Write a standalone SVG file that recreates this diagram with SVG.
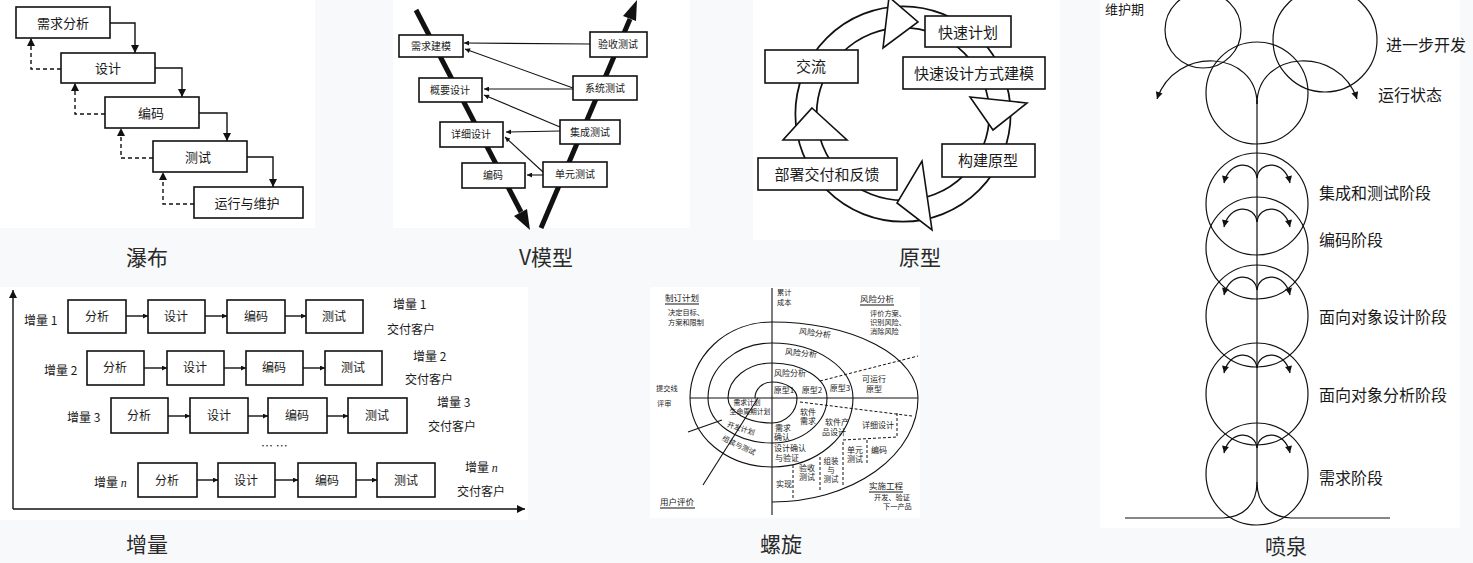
<svg xmlns="http://www.w3.org/2000/svg" width="1473" height="563" viewBox="0 0 1473 563">
<style>
text{font-family:"Noto Sans CJK SC","Noto Sans",sans-serif;fill:#1a1a1a}
.t{font-size:21px;text-anchor:middle;fill:#2a2a2a}
.b{fill:#fff;stroke:#111;stroke-width:1.6}
.l{fill:none;stroke:#111;stroke-width:1.4}
.d{fill:none;stroke:#111;stroke-width:1.4;stroke-dasharray:4,3}
.w13{font-size:13px;text-anchor:middle}
.v{font-size:10px;text-anchor:middle}
.p{font-size:15px;text-anchor:middle}
.f{font-size:16px}
.i{font-size:12px;text-anchor:middle}
.il{font-size:12px}
.s{font-size:8px;text-anchor:middle}
.ss{font-size:7.2px}
.sl{fill:none;stroke:#111;stroke-width:1.1}
.sd{fill:none;stroke:#111;stroke-width:1;stroke-dasharray:3,2}
.c{fill:none;stroke:#111;stroke-width:1.2}
</style>
<defs>
<marker id="ah" viewBox="0 0 10 10" refX="10" refY="5" markerWidth="9" markerHeight="8" markerUnits="userSpaceOnUse" orient="auto"><path d="M0,0 L10,5 L0,10 z" fill="#111"/></marker>
<marker id="ahs" viewBox="0 0 10 10" refX="10" refY="5" markerWidth="7" markerHeight="5" markerUnits="userSpaceOnUse" orient="auto"><path d="M0,0 L10,5 L0,10 z" fill="#111"/></marker>
<marker id="ahf" viewBox="0 0 10 10" refX="10" refY="5" markerWidth="9" markerHeight="7" markerUnits="userSpaceOnUse" orient="auto"><path d="M0,0 L10,5 L0,10 z" fill="#111"/></marker>
</defs>
<rect width="1473" height="563" fill="#f7f9fb"/>
<g id="panels" fill="#fff">
<rect x="0" y="0" width="315" height="228"/>
<rect x="393" y="0" width="297" height="228"/>
<rect x="753" y="0" width="307" height="240"/>
<rect x="1100" y="0" width="360" height="528"/>
<rect x="0" y="287" width="528" height="233"/>
<rect x="650" y="287" width="270" height="231"/>
</g>

<!-- ========== Waterfall ========== -->
<g id="waterfall-connectors">
<path class="l" d="M110,23 H135 V53" marker-end="url(#ah)"/>
<path class="l" d="M155,68 H182 V97" marker-end="url(#ah)"/>
<path class="l" d="M199,113 H227 V141" marker-end="url(#ah)"/>
<path class="l" d="M247,157 H273 V187" marker-end="url(#ah)"/>
<path class="d" d="M61,69 H31 V38" marker-end="url(#ah)"/>
<path class="d" d="M105,114 H75 V83" marker-end="url(#ah)"/>
<path class="d" d="M153,158 H121 V128" marker-end="url(#ah)"/>
<path class="d" d="M194,204 H163 V172" marker-end="url(#ah)"/>
</g>
<g id="wf-req"><rect class="b" x="16" y="7" width="94" height="31"/><text class="w13" x="63" y="28">需求分析</text></g>
<g id="wf-design"><rect class="b" x="61" y="53" width="94" height="30"/><text class="w13" x="108" y="73">设计</text></g>
<g id="wf-code"><rect class="b" x="105" y="97" width="94" height="31"/><text class="w13" x="151" y="118">编码</text></g>
<g id="wf-test"><rect class="b" x="153" y="141" width="94" height="31"/><text class="w13" x="198" y="162">测试</text></g>
<g id="wf-run"><rect class="b" x="194" y="187" width="109" height="31"/><text class="w13" x="247" y="208">运行与维护</text></g>
<text class="t" x="147" y="265">瀑布</text>

<!-- ========== V model ========== -->
<g id="v-thick">
<line x1="416" y1="10" x2="521" y2="212" stroke="#111" stroke-width="5"/>
<polygon points="530,230 527,209 514,216" fill="#111"/>
<line x1="541" y1="228" x2="630" y2="19" stroke="#111" stroke-width="5"/>
<polygon points="637,0 636,21 623,16" fill="#111"/>
</g>
<g id="v-connectors">
<line class="sl" x1="590" y1="44" x2="464" y2="43" marker-end="url(#ahs)"/>
<line class="sl" x1="573" y1="88" x2="465" y2="49" marker-end="url(#ahs)"/>
<line class="sl" x1="573" y1="89" x2="484" y2="89" marker-end="url(#ahs)"/>
<line class="sl" x1="560" y1="127" x2="484" y2="95" marker-end="url(#ahs)"/>
<line class="sl" x1="560" y1="131" x2="506" y2="132" marker-end="url(#ahs)"/>
<line class="sl" x1="543" y1="172" x2="505" y2="137" marker-end="url(#ahs)"/>
<line class="sl" x1="543" y1="175" x2="527" y2="175" marker-end="url(#ahs)"/>
</g>
<g id="v-req"><rect class="b" x="399" y="35" width="64" height="22"/><text class="v" x="431" y="50">需求建模</text></g>
<g id="v-acc"><rect class="b" x="590" y="32" width="57" height="25"/><text class="v" x="618" y="48">验收测试</text></g>
<g id="v-outline"><rect class="b" x="419" y="78" width="63" height="24"/><text class="v" x="450" y="94">概要设计</text></g>
<g id="v-sys"><rect class="b" x="573" y="76" width="64" height="24"/><text class="v" x="605" y="92">系统测试</text></g>
<g id="v-detail"><rect class="b" x="440" y="122" width="63" height="25"/><text class="v" x="471" y="138">详细设计</text></g>
<g id="v-int"><rect class="b" x="560" y="120" width="60" height="24"/><text class="v" x="590" y="136">集成测试</text></g>
<g id="v-code"><rect class="b" x="462" y="163" width="63" height="25"/><text class="v" x="493" y="179">编码</text></g>
<g id="v-unit"><rect class="b" x="543" y="162" width="64" height="25"/><text class="v" x="575" y="178">单元测试</text></g>
<text class="t" x="546" y="265">V模型</text>

<!-- ========== Prototype ========== -->
<g id="proto-ring">
<circle cx="903" cy="114" r="97" fill="none" stroke="#111" stroke-width="23"/>
<circle cx="903" cy="114" r="97" fill="none" stroke="#fff" stroke-width="19.5"/>
</g>
<g id="proto-arrows" fill="#fff" stroke="#111" stroke-width="1.6" stroke-linejoin="miter">
<polygon points="889,-3 918,22 883,48"/>
<polygon points="970,97 1027,103 993,130"/>
<polygon points="922,161 932,230 897,203"/>
<polygon points="812,108 847,140 783,140"/>
</g>
<g id="pr-plan"><rect class="b" x="925" y="16" width="86" height="31"/><text class="p" x="968" y="38">快速计划</text></g>
<g id="pr-design"><rect class="b" x="903" y="57" width="142" height="32"/><text class="p" x="974" y="79">快速设计方式建模</text></g>
<g id="pr-comm"><rect class="b" x="765" y="50" width="93" height="33"/><text class="p" x="811" y="72">交流</text></g>
<g id="pr-build"><rect class="b" x="942" y="144" width="93" height="33"/><text class="p" x="988" y="166">构建原型</text></g>
<g id="pr-deploy"><rect class="b" x="758" y="158" width="139" height="32"/><text class="p" x="827" y="180">部署交付和反馈</text></g>
<text class="t" x="920" y="265">原型</text>

<!-- ========== Fountain ========== -->
<g id="fountain-top">
<circle class="c" cx="1203" cy="30" r="38"/>
<circle class="c" cx="1325" cy="40" r="52"/>
<circle class="c" cx="1257" cy="93" r="51"/>
</g>
<g id="fountain-phases">
<circle class="c" cx="1257" cy="204" r="51"/>
<circle class="c" cx="1257" cy="248" r="51"/>
<circle class="c" cx="1257" cy="316" r="51"/>
<circle class="c" cx="1257" cy="394" r="51"/>
<circle class="c" cx="1257" cy="474" r="51"/>
</g>
<g id="fountain-connectors">
<line class="c" x1="1257" y1="100" x2="1257" y2="482"/>
<path class="c" d="M1257,104 C1257,50 1175,45 1157,99" marker-end="url(#ahf)"/>
<path class="c" d="M1257,104 C1257,50 1339,45 1357,99" marker-end="url(#ahf)"/>
<path class="c" d="M1257,482 C1257,505 1243,517 1223,518 L1125,518"/>
<path class="c" d="M1257,482 C1257,505 1271,517 1291,518 L1390,518"/>
<path class="c" d="M1257,178 C1255,160 1229,160 1224,183" marker-end="url(#ahf)"/>
<path class="c" d="M1257,178 C1259,160 1285,160 1290,183" marker-end="url(#ahf)"/>
<path class="c" d="M1257,222 C1255,204 1229,204 1224,227" marker-end="url(#ahf)"/>
<path class="c" d="M1257,222 C1259,204 1285,204 1290,227" marker-end="url(#ahf)"/>
<path class="c" d="M1257,290 C1255,272 1229,272 1224,295" marker-end="url(#ahf)"/>
<path class="c" d="M1257,290 C1259,272 1285,272 1290,295" marker-end="url(#ahf)"/>
<path class="c" d="M1257,368 C1255,350 1229,350 1224,373" marker-end="url(#ahf)"/>
<path class="c" d="M1257,368 C1259,350 1285,350 1290,373" marker-end="url(#ahf)"/>
<path class="c" d="M1257,448 C1255,430 1229,430 1224,453" marker-end="url(#ahf)"/>
<path class="c" d="M1257,448 C1259,430 1285,430 1290,453" marker-end="url(#ahf)"/>
</g>
<g id="fountain-labels">
<text class="f" x="1105" y="14" style="font-size:13px">维护期</text>
<text class="f" x="1386" y="51">进一步开发</text>
<text class="f" x="1378" y="101">运行状态</text>
<text class="f" x="1319" y="199">集成和测试阶段</text>
<text class="f" x="1319" y="246">编码阶段</text>
<text class="f" x="1319" y="323">面向对象设计阶段</text>
<text class="f" x="1319" y="401">面向对象分析阶段</text>
<text class="f" x="1319" y="484">需求阶段</text>
</g>
<text class="t" x="1286" y="554">喷泉</text>

<!-- ========== Incremental ========== -->
<g id="inc-connectors">
<line class="l" x1="13" y1="509" x2="13" y2="290" marker-end="url(#ah)"/>
<line class="l" x1="13" y1="509" x2="525" y2="509" marker-end="url(#ah)"/>
<line class="l" x1="126" y1="316" x2="148" y2="316" marker-end="url(#ahs)"/>
<line class="l" x1="205" y1="316" x2="227" y2="316" marker-end="url(#ahs)"/>
<line class="l" x1="285" y1="316" x2="306" y2="316" marker-end="url(#ahs)"/>
<line class="l" x1="144" y1="368" x2="167" y2="368" marker-end="url(#ahs)"/>
<line class="l" x1="224" y1="368" x2="246" y2="368" marker-end="url(#ahs)"/>
<line class="l" x1="303" y1="368" x2="325" y2="368" marker-end="url(#ahs)"/>
<line class="l" x1="168" y1="416" x2="190" y2="416" marker-end="url(#ahs)"/>
<line class="l" x1="248" y1="416" x2="268" y2="416" marker-end="url(#ahs)"/>
<line class="l" x1="327" y1="416" x2="348" y2="416" marker-end="url(#ahs)"/>
<line class="l" x1="197" y1="480" x2="218" y2="480" marker-end="url(#ahs)"/>
<line class="l" x1="275" y1="480" x2="298" y2="480" marker-end="url(#ahs)"/>
<line class="l" x1="356" y1="480" x2="377" y2="480" marker-end="url(#ahs)"/>
</g>
<g id="inc-row1">
<text class="il" x="24" y="325">增量 1</text>
<rect class="b" x="68" y="300" width="58" height="33"/><text class="i" x="97" y="321">分析</text>
<rect class="b" x="148" y="300" width="57" height="33"/><text class="i" x="176" y="321">设计</text>
<rect class="b" x="227" y="300" width="58" height="33"/><text class="i" x="256" y="321">编码</text>
<rect class="b" x="306" y="300" width="57" height="33"/><text class="i" x="334" y="321">测试</text>
<text class="il" x="393" y="309">增量 1</text><text class="il" x="387" y="334">交付客户</text>
</g>
<g id="inc-row2">
<text class="il" x="44" y="375">增量 2</text>
<rect class="b" x="87" y="351" width="57" height="34"/><text class="i" x="115" y="372">分析</text>
<rect class="b" x="167" y="351" width="57" height="34"/><text class="i" x="195" y="372">设计</text>
<rect class="b" x="246" y="351" width="57" height="34"/><text class="i" x="274" y="372">编码</text>
<rect class="b" x="325" y="351" width="57" height="34"/><text class="i" x="353" y="372">测试</text>
<text class="il" x="413" y="361">增量 2</text><text class="il" x="405" y="384">交付客户</text>
</g>
<g id="inc-row3">
<text class="il" x="67" y="422">增量 3</text>
<rect class="b" x="111" y="398" width="57" height="35"/><text class="i" x="139" y="420">分析</text>
<rect class="b" x="190" y="398" width="58" height="35"/><text class="i" x="219" y="420">设计</text>
<rect class="b" x="268" y="398" width="59" height="35"/><text class="i" x="297" y="420">编码</text>
<rect class="b" x="348" y="398" width="59" height="35"/><text class="i" x="377" y="420">测试</text>
<text class="il" x="437" y="407">增量 3</text><text class="il" x="428" y="431">交付客户</text>
</g>
<text class="il" x="261" y="451">… …</text>
<g id="inc-rown">
<text class="il" x="94" y="487">增量 <tspan font-style="italic" font-family="Liberation Serif,serif">n</tspan></text>
<rect class="b" x="138" y="463" width="59" height="34"/><text class="i" x="167" y="485">分析</text>
<rect class="b" x="218" y="463" width="57" height="34"/><text class="i" x="246" y="485">设计</text>
<rect class="b" x="298" y="463" width="58" height="34"/><text class="i" x="327" y="485">编码</text>
<rect class="b" x="377" y="463" width="58" height="34"/><text class="i" x="406" y="485">测试</text>
<text class="il" x="465" y="472">增量 <tspan font-style="italic" font-family="Liberation Serif,serif">n</tspan></text><text class="il" x="457" y="496">交付客户</text>
</g>
<text class="t" x="147" y="552">增量</text>

<!-- ========== Spiral ========== -->
<g id="spiral-lines">
<line class="sl" x1="772" y1="288" x2="772" y2="515"/>
<line class="sl" x1="690" y1="398" x2="918" y2="398"/>
<path class="sl" d="M755,398 A17 16 0 0 1 772,382 A25 16 0 0 1 797,398 A25 25 0 0 1 772,423 A44 25 0 0 1 728,398 A44 35 0 0 1 772,363 A55 35 0 0 1 827,398 A55 45 0 0 1 772,443 A64 45 0 0 1 708,398 A64 55 0 0 1 772,343 A81 55 0 0 1 853,398 A81 69 0 0 1 772,467 A82 69 0 0 1 690,398 A82 76 0 0 1 772,322 A146 76 0 0 1 918,398 A146 104 0 0 1 772,502"/>
<line class="sd" x1="820" y1="381" x2="918" y2="356"/>
<line class="sd" x1="800" y1="402" x2="912" y2="416"/>
<line class="sd" x1="843" y1="440" x2="897" y2="437"/>
<line class="sd" x1="897" y1="413" x2="897" y2="438"/>
<line class="sd" x1="843" y1="442" x2="843" y2="487"/>
<line class="sd" x1="867" y1="440" x2="867" y2="465"/>
<line class="sd" x1="793" y1="465" x2="793" y2="500"/>
<line class="sd" x1="820" y1="457" x2="820" y2="490"/>
<line class="sl" x1="758" y1="398" x2="703" y2="485"/>
<line class="sl" x1="688" y1="432" x2="722" y2="420"/>
</g>
<g id="spiral-labels">
<text class="ss" x="665" y="301" style="font-size:8.5px">制订计划</text>
<line class="sl" x1="665" y1="304" x2="699" y2="304"/>
<text class="ss" x="668" y="315">决定目标、<tspan x="668" dy="10">方案和限制</tspan></text>
<text class="ss" x="777" y="295">累计<tspan x="777" dy="10">成本</tspan></text>
<text class="ss" x="860" y="302" style="font-size:8.5px">风险分析</text>
<line class="sl" x1="860" y1="305" x2="894" y2="305"/>
<text class="ss" x="870" y="316">评价方案、<tspan x="870" dy="9">识别风险、</tspan><tspan x="870" dy="9">消除风险</tspan></text>
<text class="s" x="815" y="336" transform="rotate(8 815 333)">风险分析</text>
<text class="s" x="801" y="356" transform="rotate(5 801 353)">风险分析</text>
<text class="s" x="790" y="376">风险分析</text>
<text class="s" x="784" y="393">原型1</text>
<text class="s" x="812" y="393">原型2</text>
<text class="s" x="840" y="391">原型3</text>
<text class="s" x="874" y="382">可运行<tspan x="874" dy="10">原型</tspan></text>
<text class="ss" x="656" y="391">提交线<tspan x="657" dy="15">评审</tspan></text>
<text class="ss" x="747" y="405" text-anchor="middle" style="font-size:6.8px">需求计划<tspan x="750" dy="9">生命周期计划</tspan></text>
<text class="ss" x="741" y="431" text-anchor="middle" transform="rotate(18 741 428)">开发计划</text>
<text class="ss" x="739" y="448" text-anchor="middle" transform="rotate(25 739 445)">组装与测试</text>
<text class="s" x="808" y="415">软件<tspan x="808" dy="9">需求</tspan></text>
<text class="s" x="783" y="431">需求<tspan x="782" dy="9">确认</tspan></text>
<text class="s" x="837" y="425">软件产<tspan x="834" dy="9.5">品设计</tspan></text>
<text class="s" x="790" y="451">设计确认<tspan x="787" dy="9.5">与验证</tspan></text>
<text class="s" x="878" y="428">详细设计</text>
<text class="s" x="855" y="453">单元<tspan x="855" dy="9">测试</tspan></text>
<text class="s" x="879" y="453">编码</text>
<text class="s" x="831" y="464" style="font-size:7.5px">组装<tspan x="831" dy="9">与</tspan><tspan x="831" dy="9">测试</tspan></text>
<text class="s" x="807" y="471">验收<tspan x="807" dy="9">测试</tspan></text>
<text class="s" x="784" y="487">实现</text>
<text class="ss" x="869" y="489" style="font-size:8.5px">实施工程</text>
<line class="sl" x1="869" y1="492" x2="903" y2="492"/>
<text class="ss" x="874" y="500">开发、验证<tspan x="883" dy="9">下一产品</tspan></text>
<text class="ss" x="660" y="505" style="font-size:8.5px">用户评价</text>
<line class="sl" x1="660" y1="508" x2="695" y2="508"/>
</g>
<text class="t" x="781" y="552">螺旋</text>
</svg>
